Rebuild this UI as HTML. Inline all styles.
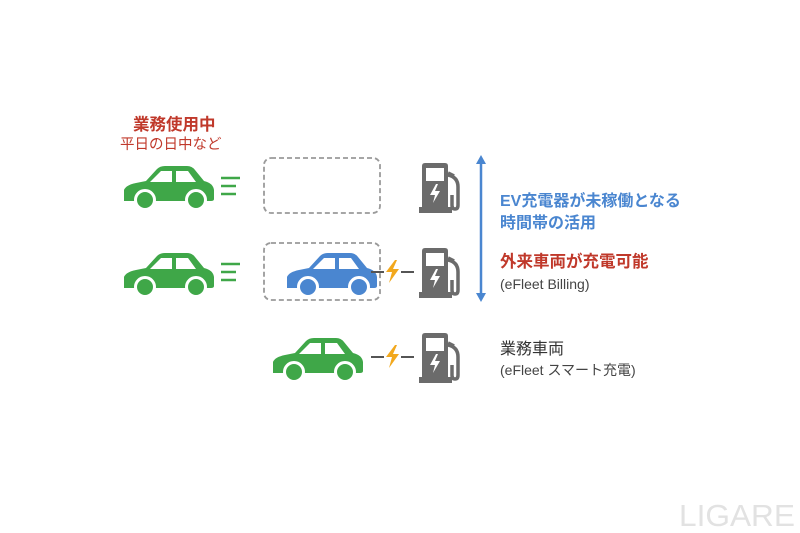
<!DOCTYPE html>
<html><head><meta charset="utf-8"><style>
html,body{margin:0;padding:0;background:#fff;}
svg{display:block;}
text{font-family:"Liberation Sans","Noto Sans CJK JP",sans-serif;}
</style></head><body>
<svg width="800" height="533" viewBox="0 0 800 533">
<defs>
<g id="car">
<path d="M0,36 L0,25 Q2,20 12,18 L22,16 L33,4 Q36,1 41,1 L63,1 Q68,1 71,5 L80,16 Q89,18 90,25 L90,34 Q90,36 87,36 Z"/>
<path d="M26,17 L37,6 L48,6 L48,17 Z M52,6 L64,6 L72,17 L52,17 Z" fill="#fff"/>
<circle cx="21" cy="35" r="9.5" stroke="#fff" stroke-width="3"/>
<circle cx="72" cy="35" r="9.5" stroke="#fff" stroke-width="3"/>
</g>
<g id="pump">
<path d="M3,0 L23,0 Q26,0 26,3 L26,45 L0,45 L0,3 Q0,0 3,0 Z" fill="#6b6b6b"/>
<rect x="-3" y="44" width="33" height="6" fill="#6b6b6b"/>
<rect x="4" y="5" width="18" height="13" fill="#fff"/>
<path d="M14,21 L8,32 L13,32 L11,40 L18,28 L13,28 L16,21 Z" fill="#fff"/>
<path d="M26,12 Q36,14 36,24 L36,42 Q36,46 33,46 Q30,46 30,42 L30,32" fill="none" stroke="#6b6b6b" stroke-width="3.5"/>
<path d="M26,10 L32,13" stroke="#6b6b6b" stroke-width="3.5"/>
</g>
<g id="bolt"><path d="M9,0 L0,12 L6,12 L3,23 L13,9 L7,9 L11,0 Z" fill="#f2a81d"/></g>
</defs>

<text x="133" y="130" font-size="16.5" font-weight="bold" fill="#c0392b">業務使用中</text>
<text x="120" y="149" font-size="14.5" fill="#c0392b">平日の日中など</text>

<use href="#car" x="124" y="165" fill="#3fa748"/>
<use href="#car" x="124" y="252" fill="#3fa748"/>
<use href="#car" x="287" y="252" fill="#4a86d0"/>
<use href="#car" x="273" y="337" fill="#3fa748"/>

<g stroke="#3fa748" stroke-width="2.5">
<line x1="221" y1="178" x2="240" y2="178"/><line x1="221" y1="186" x2="236" y2="186"/><line x1="221" y1="194" x2="236" y2="194"/>
<line x1="221" y1="264" x2="240" y2="264"/><line x1="221" y1="272" x2="236" y2="272"/><line x1="221" y1="280" x2="236" y2="280"/>
</g>

<g fill="none" stroke="#9a9a9a" stroke-width="1.8" stroke-dasharray="5,3">
<rect x="264" y="158" width="116" height="55" rx="7"/>
<rect x="264" y="243" width="116" height="57" rx="7"/>
</g>

<use href="#pump" x="422" y="163"/>
<use href="#pump" x="422" y="248"/>
<use href="#pump" x="422" y="333"/>

<g stroke="#555" stroke-width="2">
<line x1="371" y1="272" x2="384" y2="272"/><line x1="401" y1="272" x2="414" y2="272"/>
<line x1="371" y1="357" x2="384" y2="357"/><line x1="401" y1="357" x2="414" y2="357"/>
</g>
<use href="#bolt" x="386" y="260"/>
<use href="#bolt" x="386" y="345"/>

<line x1="481" y1="162" x2="481" y2="295" stroke="#4a86d0" stroke-width="2.5"/>
<path d="M476,164 L481,155 L486,164 Z M476,293 L481,302 L486,293 Z" fill="#4a86d0"/>

<text x="500" y="206" font-size="16" font-weight="bold" fill="#4a86d0">EV充電器が未稼働となる</text>
<text x="500" y="228" font-size="16" font-weight="bold" fill="#4a86d0">時間帯の活用</text>
<text x="500" y="267" font-size="16.5" font-weight="bold" fill="#c0392b">外来車両が充電可能</text>
<text x="500" y="289" font-size="14" fill="#444">(eFleet Billing)</text>
<text x="500" y="354" font-size="16" fill="#333">業務車両</text>
<text x="500" y="375" font-size="14" fill="#444">(eFleet スマート充電)</text>

<text x="679" y="526" font-size="31" fill="#e2e2e2" textLength="116" lengthAdjust="spacingAndGlyphs">LIGARE</text>
</svg>
</body></html>
